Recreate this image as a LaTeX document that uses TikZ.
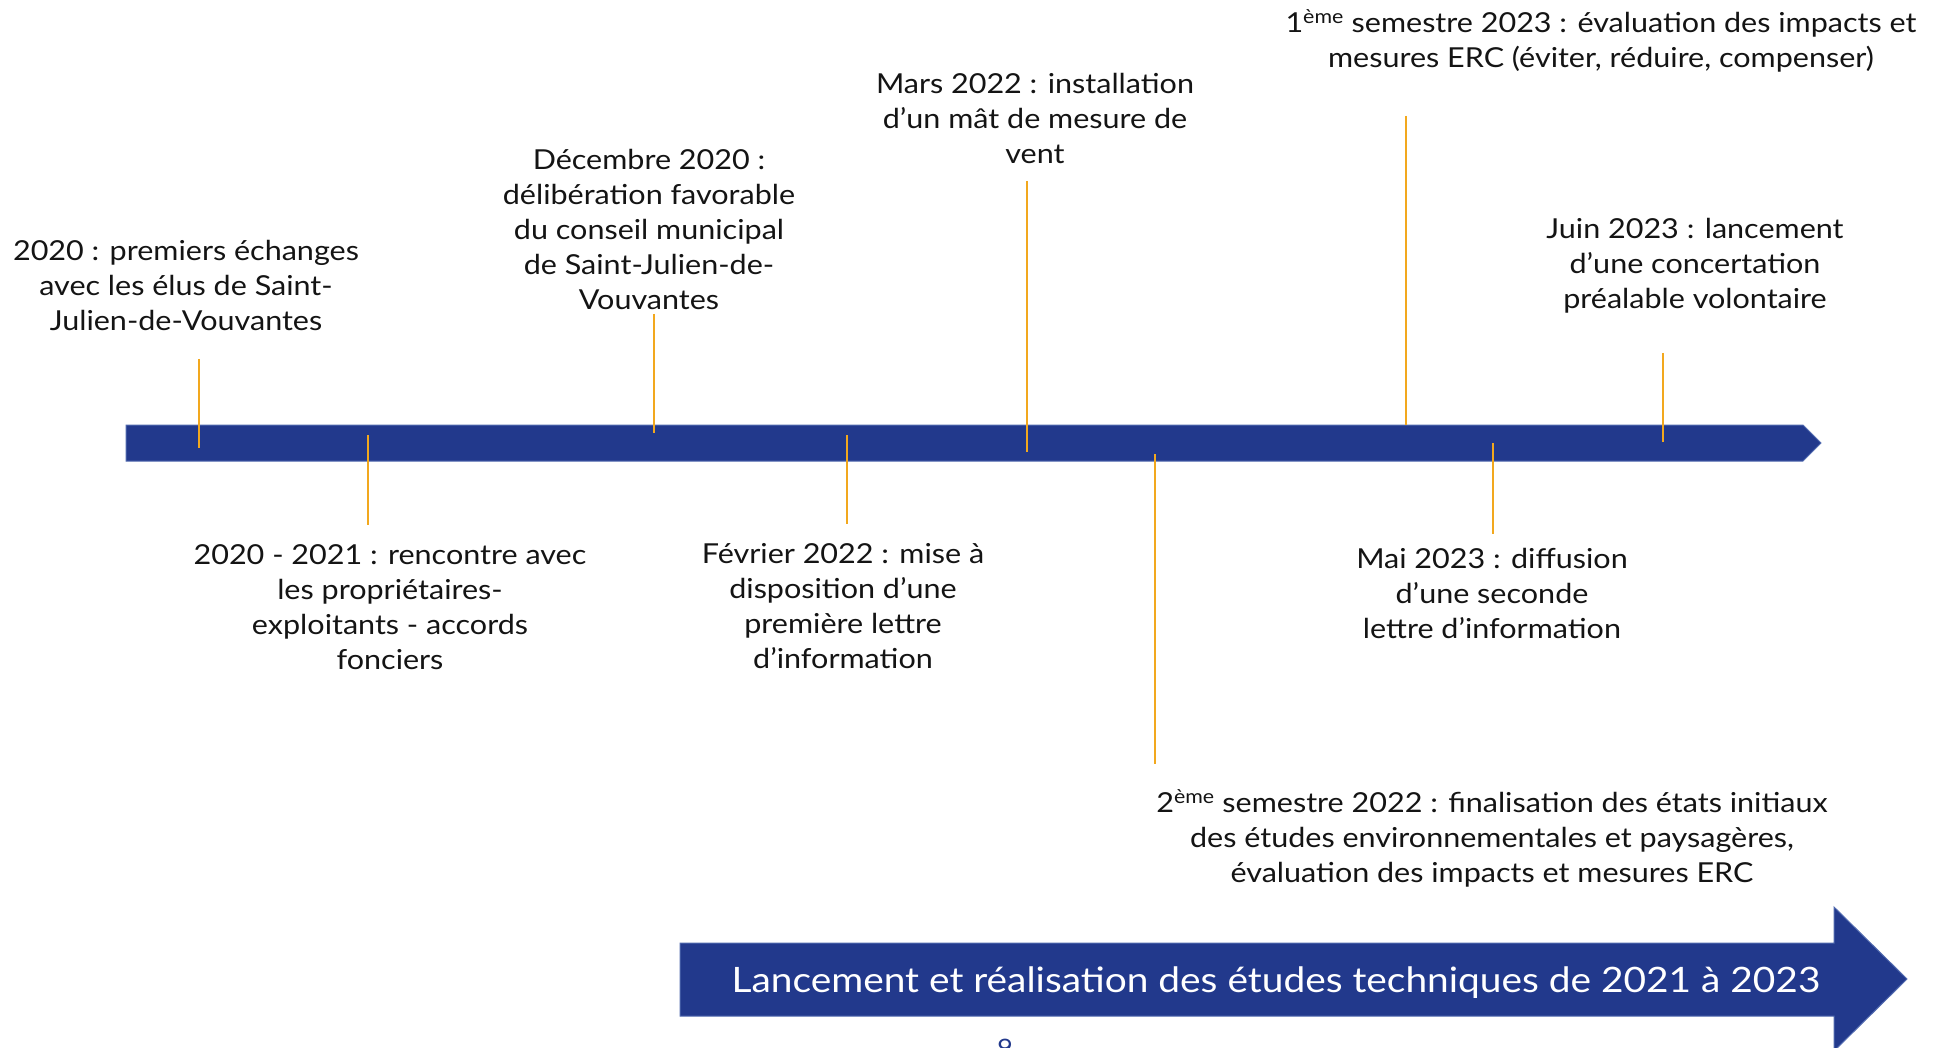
\documentclass[tikz,border=0pt]{standalone}
\usepackage{fontspec}
\setmainfont[FakeStretch=1.11]{Lato}
\definecolor{barblue}{RGB}{34,57,140}
\definecolor{baredge}{RGB}{80,105,175}
\definecolor{tickorange}{RGB}{242,168,30}
\definecolor{txt}{RGB}{20,20,20}
\begin{document}
\begin{tikzpicture}[x=1pt,y=-1pt,
  evtext/.style={align=center,text=txt,inner sep=0pt,font=\fontsize{27.5}{35}\selectfont},
  tickline/.style={draw=tickorange,line width=1.6pt},
  bandfill/.style={fill=barblue,draw=baredge,line width=1pt}]
\useasboundingbox (0,0) rectangle (1941,1048);
\fill[white] (0,0) rectangle (1941,1048);
% main timeline bar
\path[bandfill] (126,425) -- (1803,425) -- (1821,443) -- (1803,461) -- (126,461) -- cycle;
% big arrow
\path[bandfill] (680,943) -- (1834,943) -- (1834,907) -- (1907,979) -- (1834,1051) -- (1834,1016) -- (680,1016) -- cycle;
\node[text=white,font=\fontsize{35}{42}\selectfont,inner sep=0pt] (arrowtxt) at (1276,982.5) {Lancement et réalisation des études techniques de 2021 à 2023};
% page number
\node[text=barblue,font=\fontsize{24}{28}\selectfont,inner sep=0pt] (pagenum) at (1005,1048) {9};
% tick coordinates
\coordinate (t1a) at (199,359); \coordinate (t1b) at (199,448);
\coordinate (t2a) at (368,435); \coordinate (t2b) at (368,525);
\coordinate (t3a) at (654,314); \coordinate (t3b) at (654,433);
\coordinate (t4a) at (847,435); \coordinate (t4b) at (847,524);
\coordinate (t5a) at (1027,181); \coordinate (t5b) at (1027,452);
\coordinate (t6a) at (1155,454); \coordinate (t6b) at (1155,764);
\coordinate (t7a) at (1406,116); \coordinate (t7b) at (1406,425);
\coordinate (t8a) at (1493,443); \coordinate (t8b) at (1493,534);
\coordinate (t9a) at (1663,353); \coordinate (t9b) at (1663,442);
\draw[tickline] (t1a) -- (t1b);
\draw[tickline] (t2a) -- (t2b);
\draw[tickline] (t3a) -- (t3b);
\draw[tickline] (t4a) -- (t4b);
\draw[tickline] (t5a) -- (t5b);
\draw[tickline] (t6a) -- (t6b);
\draw[tickline] (t7a) -- (t7b);
\draw[tickline] (t8a) -- (t8b);
\draw[tickline] (t9a) -- (t9b);
% event texts
\node[evtext] (evA) at (186,285) {2020 : premiers échanges\\avec les élus de Saint-\\Julien-de-Vouvantes};
\node[evtext] (evB) at (649,229) {Décembre 2020 :\\délibération favorable\\du conseil municipal\\de Saint-Julien-de-\\Vouvantes};
\node[evtext] (evC) at (1035,118) {Mars 2022 : installation\\d’un mât de mesure de\\vent};
\node[evtext] (evD) at (1601,40.5) {1\textsuperscript{ème} semestre 2023 : évaluation des impacts et\\mesures ERC (éviter, réduire, compenser)};
\node[evtext] (evE) at (1695,266) {Juin 2023 : lancement\\d’une concertation\\préalable volontaire};
\node[evtext] (evF) at (390,607.5) {2020 - 2021 : rencontre avec\\les propriétaires-\\exploitants - accords\\fonciers};
\node[evtext] (evG) at (843,606) {Février 2022 : mise à\\disposition d’une\\première lettre\\d’information};
\node[evtext] (evH) at (1492,593) {Mai 2023 : diffusion\\d’une seconde\\lettre d’information};
\node[evtext] (evI) at (1492,838) {2\textsuperscript{ème} semestre 2022 : finalisation des états initiaux\\des études environnementales et paysagères,\\évaluation des impacts et mesures ERC};
\end{tikzpicture}
\end{document}
